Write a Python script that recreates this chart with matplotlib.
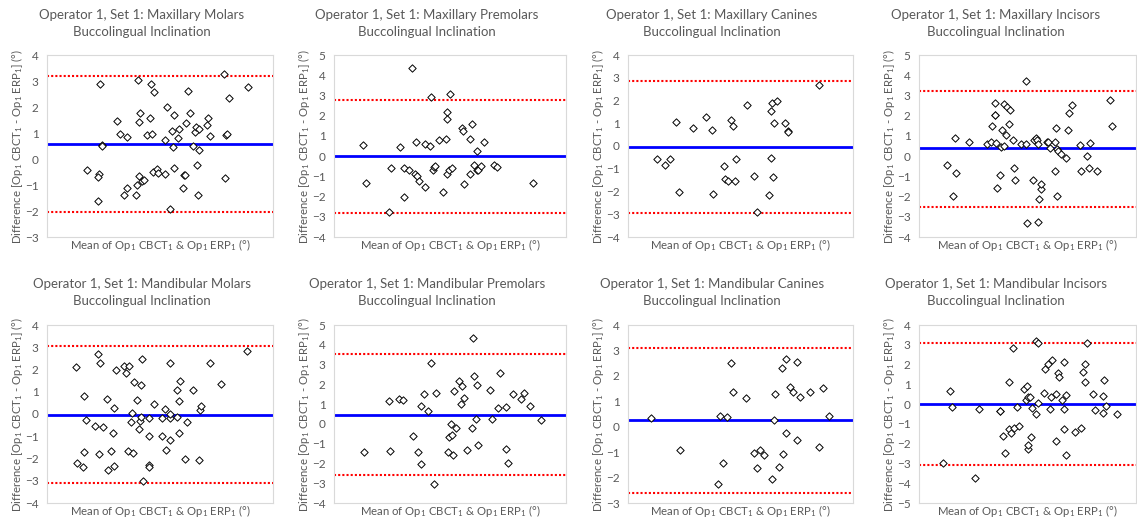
import matplotlib
matplotlib.use("Agg")
import matplotlib.pyplot as plt
import numpy as np

plt.rcParams['font.family'] = ['Lato', 'DejaVu Sans']
plt.rcParams['mathtext.fontset'] = 'custom'
plt.rcParams['mathtext.rm'] = 'Lato'
plt.rcParams['mathtext.it'] = 'Lato'
plt.rcParams['mathtext.bf'] = 'Lato'

GRAY = '#595959'

titles = [
    "Maxillary Molars", "Maxillary Premolars", "Maxillary Canines", "Maxillary Incisors",
    "Mandibular Molars", "Mandibular Premolars", "Mandibular Canines", "Mandibular Incisors",
]

# x: mean of the two measurements (arbitrary units read from position), y: difference
mx_molar_x = [260, 300, 305, 306, 296, 293, 294, 352, 360, 381, 372, 381, 408, 410, 414, 418, 419, 418, 427, 433,
              440, 449, 453, 455, 462, 458, 472, 473, 494, 494, 500, 509, 516, 518, 522, 523, 535, 538, 549, 551,
              555, 559, 563, 571, 578, 585, 589, 591, 594, 596, 598, 620, 623, 630, 672, 676, 679, 682, 687, 745]
mx_molar_y = [-0.43, 2.87, 0.55, 0.50, -0.58, -0.71, -1.62, 1.47, 0.98, 0.86, -1.39, -1.11, -1.37, -0.99, 3.02, -0.66,
              1.77, 1.44, -0.85, -0.81, 0.93, 1.56, 2.87, 0.98, 2.58, -0.49, -0.37, -0.54, -0.57, 0.72, 2.01, -1.92,
              1.07, 0.48, 1.70, -0.35, 0.81, 1.16, -1.13, -0.62, -0.63, 1.38, 2.62, 1.77, 0.50, 1.02, 1.24, -0.22,
              -1.37, 1.15, 0.36, 1.31, 1.57, 0.90, 3.27, -0.73, 0.93, 0.97, 2.33, 2.77]

mx_premolar_x = [235, 243, 312, 318, 348, 358, 360, 373, 382, 393, 397, 396, 404, 422, 422, 436, 439, 445, 448, 452,
                 465, 476, 486, 489, 489, 489, 496, 494, 504, 533, 536, 538, 557, 556, 564, 568, 579, 578, 582, 590,
                 600, 628, 638, 746]
mx_premolar_y = [0.56, -1.34, -2.77, -0.59, 0.43, -2.03, -0.59, -0.69, 4.36, -0.87, -0.96, 0.68, -1.24, 0.58, -1.53,
                 0.50, 2.90, -0.71, -0.56, -0.50, 0.81, -1.77, 0.84, 2.18, 1.85, -0.86, 3.07, -0.68, -0.58, 1.40, 1.25,
                 -1.37, 0.87, -0.87, 1.60, -0.45, 0.23, -0.69, -0.69, -0.50, 0.71, -0.46, -0.54, -1.34]

mx_canine_x = [261, 285, 302, 320, 328, 370, 408, 427, 430, 463, 465, 476, 485, 489, 497, 500, 531, 553, 560, 596,
               603, 604, 605, 609, 612, 622, 646, 655, 655, 748]
mx_canine_y = [-0.59, -0.83, -0.56, 1.05, -2.03, 0.79, 1.29, 0.71, -2.12, -0.90, -1.45, -1.53, 1.14, 0.89, -1.56,
               -0.56, 1.81, -1.30, -2.90, -2.15, -0.53, 1.53, 1.91, -1.35, 1.01, 1.97, 1.02, 0.68, 0.61, 2.67]

mx_incisor_x = [277, 293, 299, 304, 344, 397, 409, 411, 421, 421, 422, 425, 428, 437, 440, 443, 447, 448, 454, 458,
                463, 467, 474, 478, 481, 500, 513, 514, 516, 537, 539, 545, 548, 552, 553, 551, 559, 561, 578, 582,
                588, 601, 601, 604, 609, 609, 610, 620, 636, 642, 645, 654, 678, 679, 698, 705, 707, 728, 768, 774]
mx_incisor_y = [-0.46, -1.96, 0.92, -0.84, 0.69, 0.59, 0.69, 1.47, 2.61, 2.01, 2.05, 0.66, -1.60, -0.94, 0.46, 1.27,
                0.51, 2.57, 1.02, 2.43, 1.57, 2.29, 0.81, -0.59, -1.20, 0.58, 0.58, 3.70, -3.30, -1.19, 0.81, 0.91,
                0.78, 0.59, -2.11, -3.27, -1.62, -1.37, 0.68, 0.68, 0.38, 0.71, -0.74, 1.37, -1.95, 0.36, 0.26, 0.10,
                -0.10, 1.30, 2.15, 2.52, 0.53, -0.76, 0.00, -0.61, 0.63, -0.76, 2.76, 1.50]

md_molar_x = [227, 231, 249, 252, 251, 256, 285, 293, 295, 300, 307, 322, 325, 333, 339, 341, 343, 348, 372, 379,
              387, 385, 394, 397, 398, 403, 410, 417, 422, 421, 424, 427, 430, 446, 448, 448, 448, 463, 487, 487,
              494, 497, 509, 510, 511, 509, 530, 531, 536, 538, 540, 556, 560, 578, 596, 601, 604, 629, 663, 743]
md_molar_y = [2.10, -2.22, -2.37, 0.79, -1.71, -0.27, -0.52, 2.68, -1.80, 2.30, -0.58, 0.66, -2.52, -1.65, -0.85,
              -2.32, 0.28, 1.98, 2.16, 1.85, 2.16, -1.68, -0.34, 0.04, -1.77, 1.46, 0.63, -0.66, 1.30, -0.30, -0.15,
              2.47, -3.03, -2.30, -2.37, -0.18, -0.97, 0.46, -0.18, -0.97, 0.21, -1.62, 2.28, -0.18, 0.01, -1.18,
              -0.12, 1.09, -0.85, 0.60, 1.49, -2.04, -0.34, 1.09, -2.07, 0.16, 0.34, 2.30, 1.33, 2.82]

md_premolar_x = [238, 313, 316, 343, 356, 386, 402, 410, 411, 420, 430, 441, 448, 454, 491, 493, 500, 503, 505, 510,
                 516, 523, 529, 532, 538, 547, 562, 567, 568, 576, 578, 582, 617, 622, 641, 648, 666, 666, 670, 686,
                 710, 719, 738, 770]
md_premolar_y = [-1.44, 1.14, -1.37, 1.24, 1.19, -0.60, -1.44, 0.89, -2.04, 1.51, 0.65, 3.06, -3.03, 1.56, -1.40,
                 -0.64, 0.00, -0.57, -1.57, 1.66, -0.23, 2.16, 1.02, 1.91, 1.29, -1.30, -0.22, 4.36, 2.44, 0.27, 1.97,
                 -1.05, 1.69, 0.23, 0.82, 2.56, 0.84, -1.27, -1.97, 1.52, 1.24, 1.56, 0.92, 0.22]

md_canine_x = [244, 330, 445, 451, 460, 471, 483, 490, 527, 552, 561, 570, 581, 606, 612, 614, 628, 636, 639, 647,
               649, 659, 670, 681, 682, 689, 721, 747, 760, 778]
md_canine_y = [0.36, -0.93, -2.25, 0.44, -1.42, 0.40, 2.50, 1.38, 1.14, -1.03, -1.63, -0.91, -1.10, -2.04, 0.27,
               1.29, -1.60, 2.32, -1.06, 2.65, -0.26, 1.55, 1.36, 2.55, -0.54, 1.18, 1.38, -0.79, 1.54, 0.43]

md_incisor_x = [265, 285, 291, 361, 372, 435, 437, 444, 451, 463, 463, 468, 476, 479, 488, 492, 509, 514, 516, 519,
                521, 521, 526, 529, 534, 546, 545, 550, 552, 568, 573, 581, 587, 590, 592, 604, 606, 611, 613, 624,
                628, 630, 630, 635, 634, 661, 680, 685, 692, 693, 698, 715, 722, 746, 747, 750, 755, 788]
md_incisor_y = [-2.96, 0.64, -0.15, -3.76, -0.25, -0.33, -0.33, -1.62, -2.49, 1.14, -1.25, -1.45, 2.84, -1.19, -0.17,
                -1.10, 0.75, 0.22, 0.94, -2.29, -2.07, 0.35, 0.38, -1.67, -0.22, -0.52, 3.18, 0.08, 3.09, 0.57, 1.76,
                2.01, -0.23, 0.37, 2.22, -1.87, 0.52, 1.59, 1.39, 0.20, -0.25, 2.11, -1.27, 0.45, -2.59, -1.42, -1.20,
                1.62, 1.14, 2.02, 3.09, 0.50, -0.30, 0.43, -0.45, 1.20, -0.08, -0.50]

# bias (mean difference) and limits of agreement
bias = [0.58, -0.01, -0.06, 0.40, -0.04, 0.43, 0.25, 0.01]
upper_loa = [3.21, 2.79, 2.86, 3.23, 3.05, 3.51, 3.08, 3.11]
lower_loa = [-2.02, -2.81, -2.96, -2.51, -3.11, -2.59, -2.60, -3.08]

y_ranges = [(-3, 4), (-4, 5), (-4, 4), (-4, 5), (-4, 4), (-4, 5), (-3, 4), (-5, 4)]
x_ranges = [(140, 820), (148, 846), (175, 849), (192, 846), (140, 820), (148, 846), (175, 849), (192, 846)]

xs = [mx_molar_x, mx_premolar_x, mx_canine_x, mx_incisor_x, md_molar_x, md_premolar_x, md_canine_x, md_incisor_x]
ys = [mx_molar_y, mx_premolar_y, mx_canine_y, mx_incisor_y, md_molar_y, md_premolar_y, md_canine_y, md_incisor_y]

W, H = 1137, 523
fig = plt.figure(figsize=(W / 100, H / 100), dpi=100)

# axes boxes in pixels: left, right, top, bottom
col_lr = [(47, 273), (334, 566), (628, 853), (919, 1136)]
row_tb = [(55, 237), (325, 503)]
col_centers = [142, 427, 712, 996]
title_y = [(15, 32), (284, 301)]

S1 = r'$_{\mathregular{1}}$'
xlabel = f"Mean of Op{S1} CBCT{S1} & Op{S1} ERP{S1} (°)"
ylabel = f"Difference [Op{S1} CBCT{S1} - Op{S1} ERP{S1}] (°)"

for i in range(8):
    r, c = divmod(i, 4)
    l, rr = col_lr[c]
    t, b = row_tb[r]
    ax = fig.add_axes([l / W, 1 - b / H, (rr - l) / W, (b - t) / H])
    ax.scatter(xs[i], ys[i], marker='D', s=14, facecolors='white', edgecolors='black', linewidths=0.7, zorder=3)
    ax.axhline(bias[i], color='#0000ff', lw=2, zorder=2)
    ax.axhline(upper_loa[i], color='#ff0000', lw=1.5, ls=(0, (1, 1.0)), zorder=2)
    ax.axhline(lower_loa[i], color='#ff0000', lw=1.5, ls=(0, (1, 1.0)), zorder=2)
    ax.set_ylim(*y_ranges[i])
    ax.set_xlim(*x_ranges[i])
    ax.set_yticks(range(y_ranges[i][0], y_ranges[i][1] + 1))
    ax.set_xticks([])
    ax.tick_params(axis='y', length=0, labelsize=8.5, labelcolor=GRAY, pad=6)
    for sp in ax.spines.values():
        sp.set_color('#d9d9d9')
        sp.set_linewidth(0.8)
    ax.set_ylabel(ylabel, fontsize=8.2, color=GRAY, labelpad=0)
    ax.set_xlabel(xlabel, fontsize=8.2, color=GRAY, labelpad=0)
    ty1, ty2 = title_y[r]
    fig.text(col_centers[c] / W, 1 - ty1 / H, f"Operator 1, Set 1: {titles[i]}", ha='center', va='center',
             fontsize=9.5, color=GRAY)
    fig.text(col_centers[c] / W, 1 - ty2 / H, "Buccolingual Inclination", ha='center', va='center',
             fontsize=9.5, color=GRAY)

fig.savefig("out.png", dpi=100, facecolor='white')
